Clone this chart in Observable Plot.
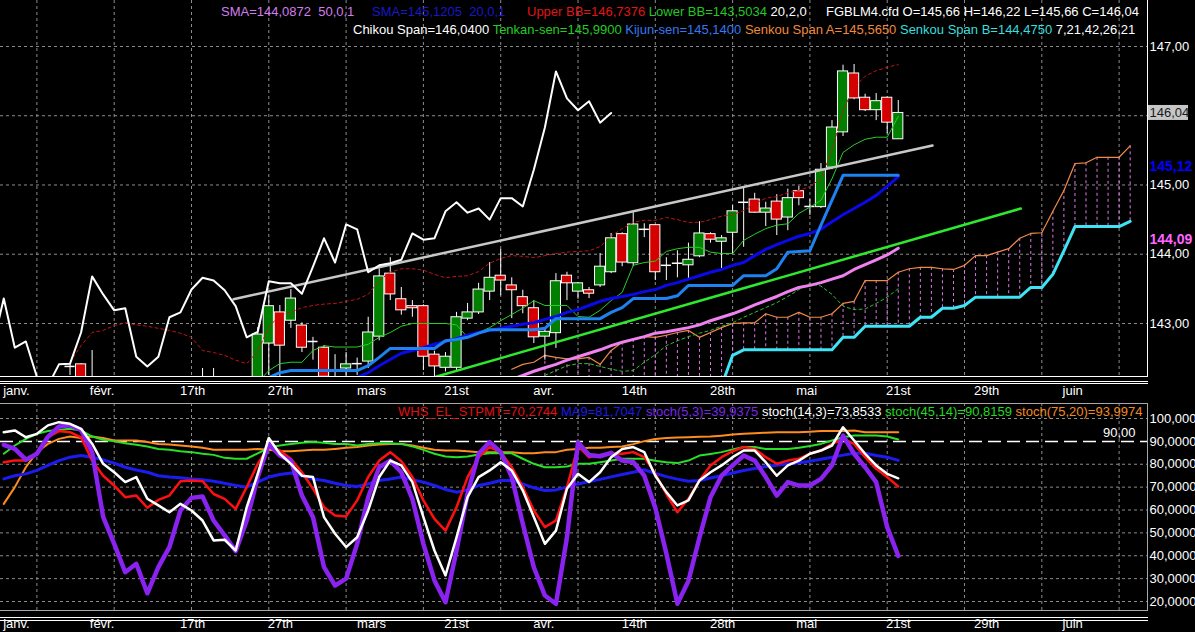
<!DOCTYPE html>
<html><head><meta charset="utf-8">
<script src="https://cdn.jsdelivr.net/npm/d3@7"></script>
<script src="https://cdn.jsdelivr.net/npm/@observablehq/plot@0.6"></script>
<style>
html,body{margin:0;padding:0;background:#000;}
#wrap{position:relative;width:1195px;height:632px;background:#000;overflow:hidden;font-family:"Liberation Sans",Arial,sans-serif;}
.abs{position:absolute;}
.leg{position:absolute;white-space:pre;line-height:1;font-size:13px;}
.ln{position:absolute;height:1px;}
</style></head>
<body><div id="wrap">
<div id="top" class="abs" style="left:0;top:0"></div>
<div id="bot" class="abs" style="left:0;top:403px"></div>
<div class="ln" style="left:0;top:376px;width:1148px;background:#fff"></div>
<div class="ln" style="left:0;top:381px;width:1148px;background:#fff"></div>
<div class="ln" style="left:0;top:383px;width:1148px;background:#fff"></div>
<div class="abs" style="left:1147px;top:0;width:1px;height:377px;background:#fff"></div>
<div class="ln" style="left:0;top:403px;width:1148px;background:#a8a8a8"></div>
<div class="ln" style="left:0;top:610px;width:1148px;background:#a8a8a8"></div>
<div class="abs" style="left:1147px;top:403px;width:1px;height:208px;background:#a8a8a8"></div>
<div class="ln" style="left:0;top:617px;width:1148px;background:#fff"></div>
<div class="ln" style="left:0;top:620px;width:1148px;background:#fff"></div>
<div id="legends"></div>
</div>
<script>
// ---------- data ----------
const candleStart = 3;
const opens = [142.38,142.41,142.05,142.10,141.90,141.80,141.70,141.60,141.55,141.70,
 141.85,141.80,141.90,142.00,141.95,141.90,141.80,142.00,142.71,143.16,
 143.04,142.97,142.74,142.65,142.20,142.35,142.42,142.45,142.81,143.72,
 143.35,143.25,143.25,142.55,142.36,142.36,143.07,143.16,143.46,143.69,
 143.55,143.38,143.22,142.81,142.86,143.69,143.46,143.48,143.55,143.74,
 144.29,143.87,144.36,144.42,143.84,143.87,143.84,143.97,144.29,144.18,
 144.31,144.75,144.79,144.60,144.76,144.53,144.91,144.69,144.68,145.25,
 145.76,146.61,146.26,146.08,146.26,145.66];
const highs = [142.42,142.42,142.61,142.20,142.10,141.95,141.85,141.75,141.80,141.90,
 142.00,142.00,142.35,142.35,142.10,142.05,142.15,142.94,143.40,143.26,
 143.49,143.01,142.80,142.68,142.55,142.58,142.50,143.09,143.79,143.95,
 143.52,143.33,143.27,142.60,142.58,143.16,143.29,143.58,143.88,144.07,
 143.66,143.48,143.33,142.94,143.72,143.74,143.59,143.52,144.01,144.30,
 144.31,144.60,144.44,144.43,143.95,144.05,144.16,144.47,144.31,144.27,
 144.70,144.96,144.88,144.75,144.86,144.94,144.98,144.79,145.31,145.93,
 146.73,146.74,146.31,146.32,146.27,146.22];
const lows = [142.25,141.95,141.90,141.80,141.70,141.60,141.50,141.45,141.50,141.60,
 141.70,141.70,141.80,141.85,141.80,141.70,141.70,141.95,142.25,142.22,
 142.93,142.58,142.47,141.95,141.95,142.10,142.25,142.35,142.75,143.33,
 143.12,143.09,142.32,142.22,142.30,142.32,143.04,143.13,143.33,143.40,
 143.07,143.14,142.71,142.47,142.64,143.33,143.35,143.36,143.52,143.72,
 143.82,143.82,144.24,143.62,143.62,143.66,143.62,143.95,144.16,143.79,
 144.01,144.10,144.59,144.40,144.27,144.34,144.70,144.56,144.66,145.22,
 145.70,146.23,146.06,145.93,145.74,145.66];
const closes = [142.38,142.05,142.15,141.90,141.80,141.70,141.60,141.55,141.70,141.85,
 141.80,141.90,142.00,141.95,141.90,141.80,142.00,142.84,143.25,142.68,
 143.36,142.65,142.74,142.23,142.10,142.41,142.42,142.87,143.68,143.42,
 143.19,143.22,142.52,142.38,142.52,143.09,143.16,143.49,143.66,143.62,
 143.48,143.25,142.80,142.88,143.61,143.58,143.58,143.43,143.82,144.23,
 143.88,144.43,144.36,143.74,143.84,143.87,143.92,144.30,144.21,144.23,
 144.62,144.75,144.60,144.66,144.50,144.81,144.81,144.69,145.22,145.83,
 146.64,146.25,146.08,146.21,145.90,146.04];
const chikouShift = 26;

const tenkanStart = 20;
const tenkan = [142.15,142.32,142.42,142.44,142.44,142.61,142.68,142.66,142.66,142.66,
 142.70,142.80,142.87,142.96,143.00,143.00,143.00,143.00,142.98,142.80,
 142.87,142.94,143.04,143.13,143.22,143.33,143.26,143.26,143.26,143.10,
 143.09,143.19,143.33,143.45,143.84,143.88,143.90,144.04,144.08,144.10,
 144.10,144.03,144.01,144.01,144.20,144.29,144.37,144.42,144.44,144.59,
 144.68,144.78,145.09,145.47,145.58,145.66,145.69,145.69,145.99];
const kijunStart = 20;
const kijun = [142.15,142.22,142.29,142.32,142.32,142.32,142.32,142.32,142.32,142.32,
 142.39,142.51,142.64,142.64,142.64,142.64,142.64,142.75,142.77,142.80,
 142.86,142.91,142.91,142.91,142.91,142.91,142.93,143.07,143.07,143.07,
 143.07,143.07,143.16,143.23,143.36,143.36,143.36,143.36,143.40,143.55,
 143.55,143.55,143.55,143.55,143.69,143.69,143.69,143.79,144.03,144.04,
 144.05,144.42,144.78,145.14,145.14,145.14,145.14,145.14,145.14];
const sma20Start = 28;
const sma20 = [142.15,142.22,142.29,142.39,142.48,142.57,142.61,142.65,142.70,142.74,
 142.78,142.83,142.87,142.90,142.93,142.96,142.99,143.01,143.06,143.10,
 143.16,143.20,143.26,143.32,143.36,143.39,143.42,143.46,143.49,143.55,
 143.59,143.64,143.69,143.74,143.78,143.84,143.88,143.98,144.07,144.14,
 144.20,144.26,144.30,144.36,144.47,144.57,144.66,144.75,144.85,144.98,145.1205];
const sma50Start = 43;
const sma50 = [142.19,142.25,142.31,142.36,142.41,142.47,142.52,142.57,142.62,142.68,
 142.73,142.77,142.81,142.86,142.88,142.91,142.94,142.98,143.04,143.09,
 143.14,143.20,143.27,143.33,143.39,143.46,143.52,143.55,143.59,143.64,
 143.69,143.78,143.85,143.92,143.99,144.0872];
const upperBBStart = 3;
const upperBB = [142.44,142.68,142.87,142.90,142.97,143.01,142.98,142.96,142.93,142.90,
 142.86,142.80,142.61,142.58,142.54,142.47,142.42,142.60,142.95,143.12,
 143.16,143.23,143.26,143.28,143.29,143.32,143.35,143.42,143.62,143.74,
 143.79,143.79,143.77,143.71,143.66,143.68,143.69,143.75,143.87,143.94,
 143.98,143.97,143.95,143.98,144.01,144.03,144.04,144.05,144.11,144.26,
 144.37,144.46,144.49,144.49,144.53,144.50,144.46,144.46,144.50,144.55,
 144.57,144.63,144.73,144.81,144.83,144.89,144.92,144.98,145.09,145.50,
 146.08,146.41,146.57,146.65,146.70,146.7376];
const lowerBBStart = 45;
const lowerBB = [142.18,142.25,142.32,142.39,142.42,142.42,142.38,142.34,142.31,142.32,
 142.44,142.55,142.68,142.75,142.81,142.86,142.90,142.96,143.01,143.09,
 143.16,143.23,143.30,143.39,143.49,143.58,143.54,143.42,143.25,143.20,
 143.21,143.29,143.38,143.5034];
const senkouStart = 43;
const senkouA = [142.34,142.41,142.44,142.54,142.51,142.49,142.49,142.51,142.41,142.61,
 142.73,142.77,142.81,142.80,142.83,142.87,142.90,142.80,142.87,142.94,
 143.00,143.01,143.01,143.14,143.09,143.09,143.16,143.09,143.09,143.14,
 143.29,143.32,143.62,143.62,143.62,143.74,143.79,143.81,143.81,143.79,
 143.78,143.84,143.98,143.98,144.03,144.08,144.23,144.30,144.31,144.62,
 144.92,145.31,145.32,145.40,145.40,145.40,145.565];
const senkouB = [141.95,141.95,141.95,141.95,141.95,141.95,141.95,141.95,141.95,141.95,
 141.95,141.95,141.95,141.95,141.95,141.95,141.95,141.95,141.95,142.10,
 142.54,142.62,142.62,142.62,142.62,142.62,142.62,142.62,142.62,142.62,
 142.80,142.80,142.96,142.96,142.96,142.96,142.96,143.09,143.09,143.22,
 143.22,143.26,143.38,143.38,143.38,143.38,143.38,143.52,143.52,143.71,
 144.05,144.40,144.40,144.40,144.40,144.40,144.475];
const grayTrendBars = [17.8, 81.1];
const grayTrendPrices = [143.35, 145.57];
const greenTrendBars = [35.9, 89.1];
const greenTrendPrices = [142.22, 144.66];

const priceTicks = [143, 144, 145, 146, 147];
const priceLabelTicks = [143, 144, 145, 147];
const dateLabels = ["janv.","févr.","17th","27th","mars","21st","avr.","14th","28th","mai","21st","29th","juin"];
const datePos = [-1.85, 5.9, 14.1, 22.05, 30.3, 38, 45.9, 54.1, 62.1, 69.7, 78, 86, 93.8];

// oscillators, bar -3 .. 78
const oscStart = -3;
const stpmt = [80.9,81.6,81.6,84.6,91.8,94.5,94,91.8,81.6,75,70.7,65.6,66.3,61,64.4,66.3,72.6,72.9,72.6,67,64.9,60.5,70,80.2,87.8,86,82.4,76.5,69.3,61.2,57.6,57.2,64.2,74.4,81.6,85.3,81.3,74.4,64.2,56.1,51,61.2,74.4,83.1,87.5,85.3,78.7,70,59.8,52.5,55.4,70,88,
 83,84,84.6,84.6,85.3,83.1,75.8,67,59,64.9,72.9,79.5,83.1,85.7,87.5,86.7,83.1,80.2,81.6,82.4,84.6,86,88.9,91.1,88.9,83.1,78,74.4,70.2744];
const ma9 = [73.6,75,75.8,77.3,79.5,81.6,83.1,83.8,83.1,81.9,80.5,78.7,77.5,76.5,75,74.4,74.1,73.6,73.2,72.6,71.7,70.7,70,72.2,74.4,75.5,76.2,75,73.6,72.9,71.7,70.7,70.3,71.4,72.9,73.6,74.4,73.2,72.2,70.7,69,67.8,68.8,70.7,71.7,72.9,72.9,71.4,69.7,68.5,68.8,70,71.4,
 72.5,73.4,74.5,75.5,76.5,77.6,76,74.6,73.5,72.6,72.9,74,75,76.2,77.3,78.1,79,79.6,80.2,80.7,81.3,82.2,83.1,84,84.8,84.8,83.8,83.1,81.7047];
const stoch5 = [88.5,86.7,82,84.6,92,96.5,97,95,85.3,57,45.2,32.8,36.5,23.6,35,43.8,59.8,65.3,65.9,55.4,48.9,42,55.4,74.4,88.9,83.8,81.6,66.3,56.9,35,27,30,45.2,65.6,78.7,81.6,76.5,64.9,45.2,29.2,19.7,42.3,67.1,84.6,89.7,85.3,74.4,54,35,22.6,19,48,89.5,
 84,83.5,85,81.6,81,75,61,41,19,29,48,65.6,75,79.5,83.8,81.6,74.4,66.3,72.2,70.7,70.7,73.6,79.5,92.5,84.6,78.7,72.2,52.5,39.9375];
const stoch14 = [94,94.8,91.8,93.3,97,98.4,97.7,95.5,89,80.2,76.5,72.2,74.4,64.9,62,59,62.7,59.8,55.4,46.7,47,42.3,61.2,75.8,91.5,84.6,80.2,75,74.4,56.9,49.6,43.8,48.1,59.8,74.4,81.6,79.5,72.2,56.9,42.3,31.4,48.1,65.6,74.4,77.3,80.9,77.3,68.5,56.9,45.2,51,69.3,75.8,
 72.2,76.5,83.1,86.7,87.5,85.3,75,67.8,62,64.2,72.9,76.5,79.5,83.1,86,86,80.9,75,79.5,81.6,84.6,86,88.2,96.2,90.4,84.6,79.5,75.8,73.8533];
const stoch45 = [84.6,88.2,91.1,93.3,94.5,95,95.5,94.8,92.1,90.7,90,89.2,88.5,87.8,86.7,86.3,85.7,85.3,84.6,84.1,82.8,82.4,82.4,84.8,87.2,88.2,88.9,89.4,89.7,89.4,88.9,88.9,88.2,88.9,89.2,89.2,88.9,87.8,86.3,84.6,83.4,83.1,83.4,84.3,84.8,84.8,84.8,82.4,80.2,78.7,78.7,79,80.2,
 80.2,80.9,81.6,82.4,82.4,82.4,81.5,80.9,80.5,81.6,83.8,84.5,85.3,86.5,87.5,87.5,86.7,86.7,86.7,87.2,88,88.9,90.4,91.8,92.6,92.6,92.6,92.1,90.8159];
const stoch75 = [62.7,70,78.7,85.3,88.9,91.1,92.1,91.5,92.1,91.5,90.4,90.4,90.4,89.7,88.9,88.6,88.2,87.8,87.2,86.3,86.3,86.3,86.3,86.7,86.3,85.7,85.7,86,86.3,86.3,86.7,87.2,87.5,88.2,88.6,88.9,88.9,88.2,87.2,86.3,86,86,85.7,85.3,85.3,85.3,85.3,84.8,84.8,85.3,85.3,86.3,86.7,
 87.2,87.2,87.5,87.8,88.8,90.1,91,91.5,91.7,91.8,92,92.1,92.5,93,93.3,93.6,93.8,94,94,94,94.2,94.5,94.5,94.5,94.8,94,94,94,93.9974];
const oscTicks = [20, 30, 40, 50, 60, 70, 80, 90, 100];
const oscLevel = 90;

// ---------- build ----------
const X_DOMAIN = [-3.296, 100.57];
const Y_TOP = [142.220, 147.664];
const FONT = '"Liberation Sans", Arial, sans-serif';
const GRID = "#8c8c8c";
const gridBars = d3.range(0, 100, 7);
const fmt2 = v => v.toFixed(2).replace(".", ",");
const series = (start, vals) => vals.map((v, i) => ({x: start + i, y: v}));

const candles = opens.map((o, i) => ({x: candleStart + i, o, h: highs[i], l: lows[i], c: closes[i]}));
const bodies = candles.filter(d => d.o !== d.c);
const dojis = candles.filter(d => d.o === d.c);
const chikou = candles.map(d => ({x: d.x - chikouShift, y: d.c}));
const cloud = senkouA.map((a, i) => ({x: senkouStart + i, a, b: senkouB[i]})).filter(d => d.x >= 46);
const trend = (bars, prices) => bars.map((b, i) => ({x: b, y: prices[i]}));
const dates = datePos.map((p, i) => ({x: p, label: dateLabels[i]}));
const line = (data, opts) => Plot.line(data, {x: "x", y: "y", clip: true, ...opts});

// last-price tag: box spanning the axis gutter, sized from the scales (1 bar = 11.04px, 1 pt = 69.25px)
const lastClose = closes[closes.length - 1];
const pxPerBar = 1147 / (X_DOMAIN[1] - X_DOMAIN[0]);
const pxPerPt = 377 / (Y_TOP[1] - Y_TOP[0]);
const tag = [{x1: X_DOMAIN[1] + 1 / pxPerBar, x2: X_DOMAIN[1] + 41 / pxPerBar,
  y1: lastClose - 7.5 / pxPerPt, y2: lastClose + 7.5 / pxPerPt, v: lastClose}];

const topPlot = Plot.plot({
  width: 1195, height: 403,
  marginLeft: 0, marginRight: 48, marginTop: 0, marginBottom: 26,
  x: {domain: X_DOMAIN, axis: null},
  y: {domain: Y_TOP, axis: null},
  style: {background: "transparent", color: "white", fontFamily: FONT, fontSize: "13px", overflow: "visible"},
  marks: [
    Plot.ruleY(priceTicks, {stroke: GRID, strokeDasharray: "3,3"}),
    Plot.ruleX(gridBars, {stroke: GRID, strokeDasharray: "3,3"}),
    Plot.ruleX(cloud, {x: "x", y1: "a", y2: "b", stroke: "#e078e8", strokeDasharray: "3,3", clip: true}),
    line(series(senkouStart, senkouB), {stroke: "#3fe3f3", strokeWidth: 3}),
    line(series(senkouStart, senkouA), {stroke: "#f08a48", strokeWidth: 1.2}),
    line(series(lowerBBStart, lowerBB), {stroke: "#2fbf2f", strokeWidth: 1, strokeDasharray: "3,3"}),
    line(series(sma50Start, sma50), {stroke: "#f082f0", strokeWidth: 3}),
    Plot.ruleX(candles, {x: "x", y1: "l", y2: "h", stroke: "white", strokeWidth: 1, clip: true}),
    Plot.rect(bodies, {x1: d => d.x - 0.46, x2: d => d.x + 0.46, y1: "o", y2: "c",
      fill: d => d.c > d.o ? "#007f00" : "#d40000", stroke: "white", strokeWidth: 1, clip: true}),
    Plot.ruleY(dojis, {y: "c", x1: d => d.x - 0.46, x2: d => d.x + 0.46, stroke: "white", strokeWidth: 1.5, clip: true}),
    line(series(tenkanStart, tenkan), {stroke: "#26d026", strokeWidth: 1}),
    line(series(upperBBStart, upperBB), {stroke: "#c01414", strokeWidth: 1, strokeDasharray: "3,3"}),
    line(series(sma20Start, sma20), {stroke: "#0a0ae8", strokeWidth: 3}),
    line(series(kijunStart, kijun), {stroke: "#1e82f0", strokeWidth: 3}),
    line(trend(greenTrendBars, greenTrendPrices), {stroke: "#2ee82e", strokeWidth: 2.5}),
    line(trend(grayTrendBars, grayTrendPrices), {stroke: "#c8c8c8", strokeWidth: 2.5}),
    line(chikou, {stroke: "white", strokeWidth: 2}),
    Plot.text(priceLabelTicks, {y: d => d, frameAnchor: "right", dx: 2, textAnchor: "start", text: fmt2, fill: "white", fontSize: 13}),
    Plot.rect(tag, {x1: "x1", x2: "x2", y1: "y1", y2: "y2", fill: "#c6c6c6"}),
    Plot.text(tag, {y: "v", frameAnchor: "right", dx: 2, textAnchor: "start", text: d => fmt2(d.v), fill: "#1a1a1a", fontSize: 13}),
    Plot.text([sma20[sma20.length - 1]], {y: d => d, frameAnchor: "right", dx: 2, dy: -10, textAnchor: "start", text: fmt2, fill: "#0000ff", fontWeight: "bold", fontSize: 14}),
    Plot.text([sma50[sma50.length - 1]], {y: d => d, frameAnchor: "right", dx: 2, dy: -9, textAnchor: "start", text: fmt2, fill: "#ff66ff", fontWeight: "bold", fontSize: 14}),
    Plot.text(dates, {x: "x", text: "label", frameAnchor: "bottom", dy: 17, fill: "white", fontSize: 13})
  ]
});
document.getElementById("top").appendChild(topPlot);

const botPlot = Plot.plot({
  width: 1195, height: 229,
  marginLeft: 0, marginRight: 48, marginTop: 0, marginBottom: 22,
  x: {domain: X_DOMAIN, axis: null},
  y: {domain: [16.07, 106.56], axis: null},
  style: {background: "transparent", color: "white", fontFamily: FONT, fontSize: "13px", overflow: "visible"},
  marks: [
    Plot.ruleY(oscTicks.filter(v => v !== oscLevel), {stroke: GRID, strokeDasharray: "3,3"}),
    Plot.ruleX(gridBars, {stroke: GRID, strokeDasharray: "3,3"}),
    Plot.ruleY([oscLevel], {stroke: "white", strokeWidth: 1.5, strokeDasharray: "13,6"}),
    line(series(oscStart, stoch75), {stroke: "#ff8c1e", strokeWidth: 2}),
    line(series(oscStart, stoch45), {stroke: "#28e028", strokeWidth: 2}),
    line(series(oscStart, ma9), {stroke: "#1c1cf0", strokeWidth: 3}),
    line(series(oscStart, stpmt), {stroke: "#ff1010", strokeWidth: 2.5}),
    line(series(oscStart, stoch5), {stroke: "#8a22f0", strokeWidth: 4.5}),
    line(series(oscStart, stoch14), {stroke: "white", strokeWidth: 2.5}),
    Plot.text(oscTicks, {y: d => d, frameAnchor: "right", dx: 2, textAnchor: "start",
      text: d => d === 100 ? "100,000" : d + ",0000", fill: "white", fontSize: 13}),
    Plot.text([oscLevel], {y: d => d, frameAnchor: "right", dx: -12, dy: -9, textAnchor: "end",
      text: d => d + ",00", fill: "white", fontSize: 13}),
    Plot.text(dates, {x: "x", text: "label", frameAnchor: "bottom", dy: 17, fill: "white", fontSize: 13})
  ]
});
document.getElementById("bot").appendChild(botPlot);

// ---------- legends ----------
const legends = [
  {x: 221, y: 5, size: 13, parts: [["SMA=144,0872  50,0,1", "#d27ded"]]},
  {x: 372, y: 5, size: 13, parts: [["SMA=145,1205  20,0,1", "#1818c8"]]},
  {x: 527, y: 5, size: 13, parts: [["Upper BB=146,7376", "#e01414"], [" Lower BB=143,5034", "#22c822"], [" 20,2,0", "#ffffff"]]},
  {x: 826, y: 5, size: 13, parts: [["FGBLM4.cfd O=145,66 H=146,22 L=145,66 C=146,04", "#ffffff"]]},
  {x: 353, y: 23, size: 13, parts: [["Chikou Span=146,0400", "#ffffff"], [" Tenkan-sen=145,9900", "#22cc22"],
    [" Kijun-sen=145,1400", "#3478f0"], [" Senkou Span A=145,5650", "#f08a3a"], [" Senkou Span B=144,4750", "#36dede"], [" 7,21,42,26,21", "#ffffff"]]},
  {x: 398, y: 405, size: 13, parts: [["WHS_EL_STPMT=70,2744", "#e01010"], [" MA9=81,7047", "#1c1ce0"], [" stoch(5,3)=39,9375", "#7a28e8"],
    [" stoch(14,3)=73,8533", "#ffffff"], [" stoch(45,14)=90,8159", "#22d822"], [" stoch(75,20)=93,9974", "#f08a20"]]}
];
const legRoot = document.getElementById("legends");
for (const l of legends) {
  const div = document.createElement("div");
  div.className = "leg";
  div.style.left = l.x + "px"; div.style.top = l.y + "px"; div.style.fontSize = l.size + "px";
  for (const [t, c] of l.parts) {
    const s = document.createElement("span"); s.textContent = t; s.style.color = c; div.appendChild(s);
  }
  legRoot.appendChild(div);
}
</script>
</body></html>
